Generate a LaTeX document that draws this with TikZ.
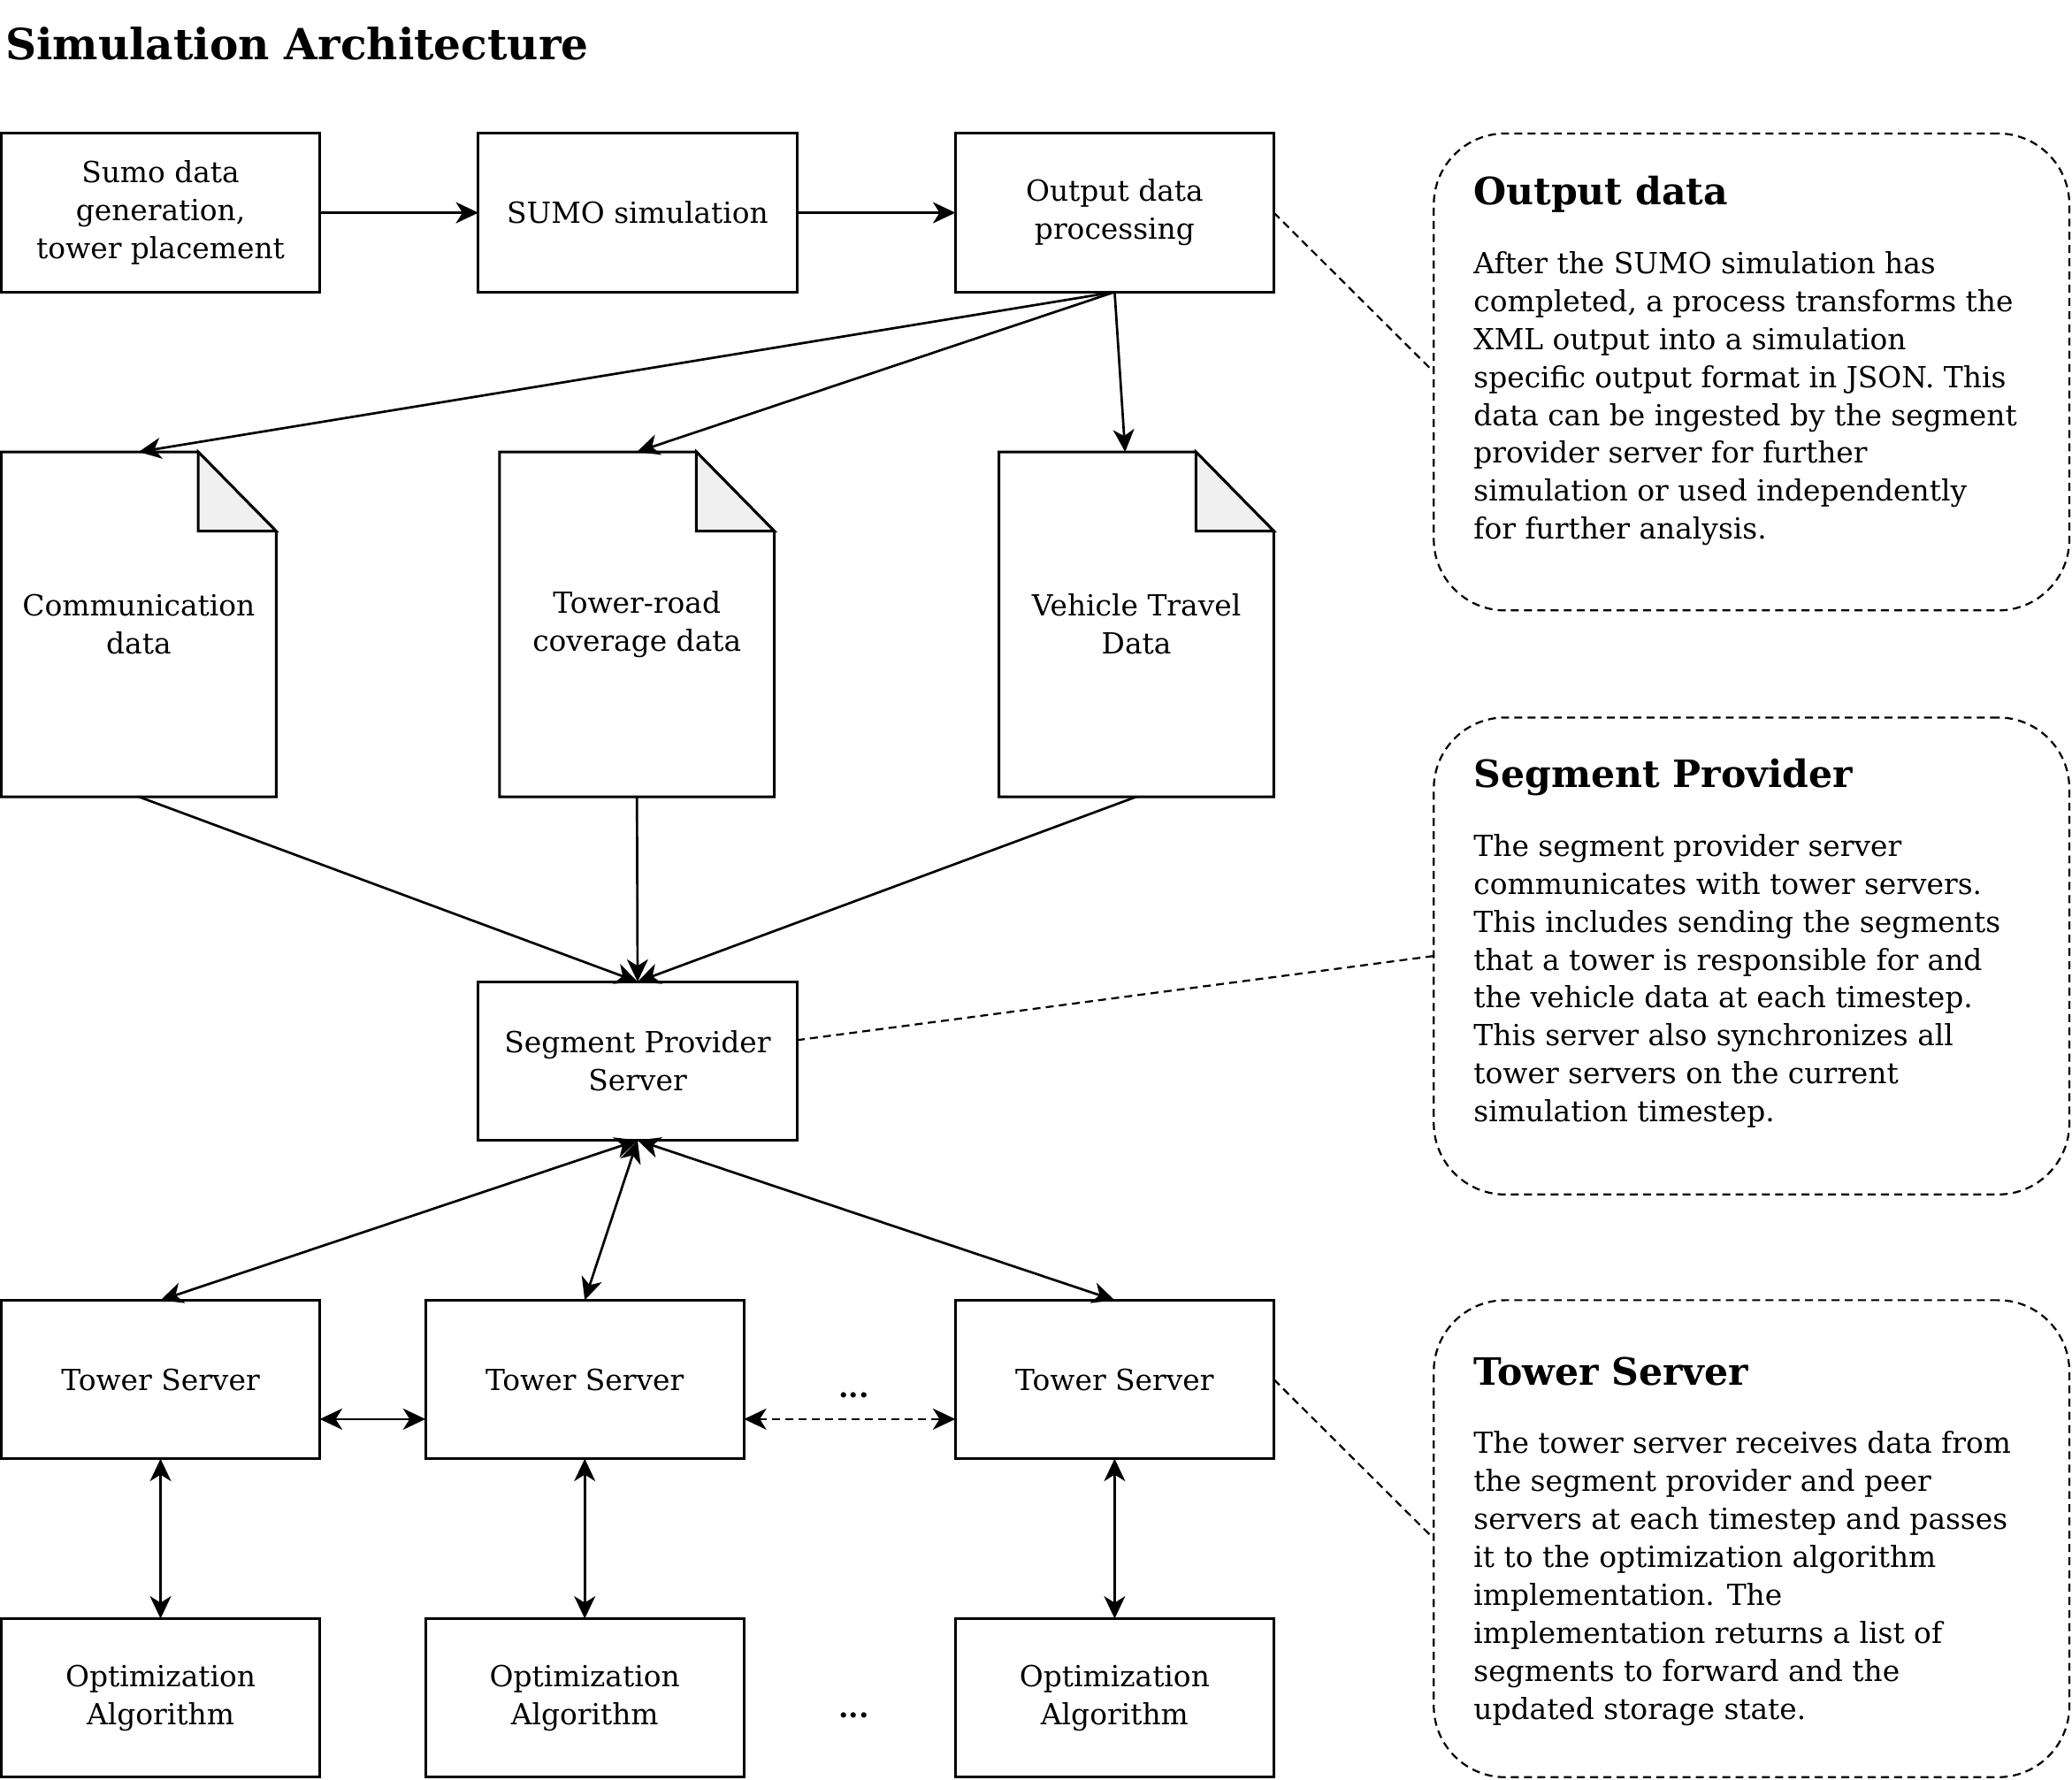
\documentclass[tikz,border=0pt]{standalone}
\usepackage{fontspec}
\setmainfont{DejaVu Serif}
\usetikzlibrary{arrows.meta,calc}
\newcommand{\bodyfont}{\fontsize{22}{28.7}\selectfont}
\newcommand{\headfont}{\fontsize{28.5}{34}\selectfont\bfseries}
\newcommand{\titlefont}{\fontsize{32.5}{38}\selectfont\bfseries}
\definecolor{foldgray}{HTML}{F0F0F0}
\begin{document}
\begin{tikzpicture}[x=1pt,y=-1pt,
  box/.style={draw, line width=2pt, minimum width=241pt, minimum height=120pt, inner sep=2pt, outer sep=0pt, align=center, font=\bodyfont},
  docnode/.style={minimum width=208pt, minimum height=261pt, inner sep=0pt, outer sep=0pt, align=center, font=\bodyfont},
  notebox/.style={draw, line width=1.5pt, dash pattern=on 6pt off 4pt, rounded corners=54pt, minimum width=481pt, minimum height=361pt, inner sep=0pt, outer sep=0pt},
  notehead/.style={anchor=base west, inner sep=0pt, font=\headfont},
  notebody/.style={anchor=base west, inner sep=0pt, align=left, font=\bodyfont},
  arr/.style={line width=1.8pt, -{Stealth[length=17pt,width=16pt,inset=5pt]}},
  biarr/.style={line width=1.8pt, {Stealth[length=17pt,width=16pt,inset=5pt]}-{Stealth[length=17pt,width=16pt,inset=5pt]}},
  dashlink/.style={line width=1.5pt, dash pattern=on 6pt off 4pt}
]
\useasboundingbox (0,0) rectangle (1568,1347);

\node[anchor=base west, inner sep=0pt, font=\titlefont] (title) at (4,45) {Simulation Architecture};

% top row
\node[box] (A) at (121.5,161) {Sumo data\\generation,\\tower placement};
\node[box] (B) at (482.5,161) {SUMO simulation};
\node[box] (C) at (843.5,161) {Output data\\processing};

% documents
\node[docnode] (d1) at (105,472.5) {Communication\\data};
\node[docnode] (d2) at (482,472.5) {Tower-road\\coverage data};
\node[docnode] (d3) at (860,472.5) {Vehicle Travel\\Data};
\foreach \d in {d1,d2,d3}{
  \draw[line width=2pt, line join=miter] (\d.north west) -- ($(\d.north east)+(-59,0)$) -- ($(\d.north east)+(0,60)$) -- (\d.south east) -- (\d.south west) -- cycle;
  \filldraw[fill=foldgray, line width=2pt, line join=miter] ($(\d.north east)+(-59,0)$) -- ($(\d.north east)+(0,60)$) -- ($(\d.north east)+(-59,60)$) -- cycle;
}

% segment provider
\node[box] (SP) at (482.5,803) {Segment Provider\\Server};

% tower servers
\node[box] (TS1) at (121.5,1044) {Tower Server};
\node[box] (TS2) at (442.5,1044) {Tower Server};
\node[box] (TS3) at (843.5,1044) {Tower Server};

% optimization
\node[box] (OA1) at (121.5,1285) {Optimization\\Algorithm};
\node[box] (OA2) at (442.5,1285) {Optimization\\Algorithm};
\node[box] (OA3) at (843.5,1285) {Optimization\\Algorithm};

\node[inner sep=0pt, font=\bodyfont\bfseries] (dots1) at (646,1056) {...};
\node[inner sep=0pt, font=\bodyfont\bfseries] (dots2) at (646,1298) {...};

% notes
\node[notebox] (N1) at (1325.5,281.5) {};
\node[notebox] (N2) at (1325.5,723.5) {};
\node[notebox] (N3) at (1325.5,1164.5) {};

\node[notehead] (N1h) at (1115,155) {Output data};
\node[notebody] (N1b) at (1115,408) {After the SUMO simulation has\\completed, a process transforms the\\XML output into a simulation\\specific output format in JSON. This\\data can be ingested by the segment\\provider server for further\\simulation or used independently\\for further analysis.};

\node[notehead] (N2h) at (1115,596) {Segment Provider};
\node[notebody] (N2b) at (1115,849) {The segment provider server\\communicates with tower servers.\\This includes sending the segments\\that a tower is responsible for and\\the vehicle data at each timestep.\\This server also synchronizes all\\tower servers on the current\\simulation timestep.};

\node[notehead] (N3h) at (1115,1048) {Tower Server};
\node[notebody] (N3b) at (1115,1301) {The tower server receives data from\\the segment provider and peer\\servers at each timestep and passes\\it to the optimization algorithm\\implementation. The\\implementation returns a list of\\segments to forward and the\\updated storage state.};

% connectors
\draw[arr] (A) -- (B);
\draw[arr] (B) -- (C);
\draw[arr] (C.south) -- (d1.north);
\draw[arr] (C.south) -- (d2.north);
\draw[arr] (C.south) -- (d3);
\draw[arr] (d1.south) -- (SP.north);
\draw[arr] (d2.south) -- (SP.north);
\draw[arr] (d3.south) -- (SP.north);
\draw[biarr] (SP.south) -- (TS1.north);
\draw[biarr] (SP.south) -- (TS2.north);
\draw[biarr] (SP.south) -- (TS3.north);
\draw[biarr] ([yshift=-30pt]TS1.east) -- ([yshift=-30pt]TS2.west);
\draw[biarr, dash pattern=on 6pt off 4pt] ([yshift=-30pt]TS2.east) -- ([yshift=-30pt]TS3.west);
\draw[biarr] (TS1.south) -- (OA1.north);
\draw[biarr] (TS2.south) -- (OA2.north);
\draw[biarr] (TS3.south) -- (OA3.north);

\draw[dashlink] (C.east) -- (N1.west);
\draw[dashlink] (SP) -- (N2.west);
\draw[dashlink] (TS3.east) -- (N3.west);
\end{tikzpicture}
\end{document}
